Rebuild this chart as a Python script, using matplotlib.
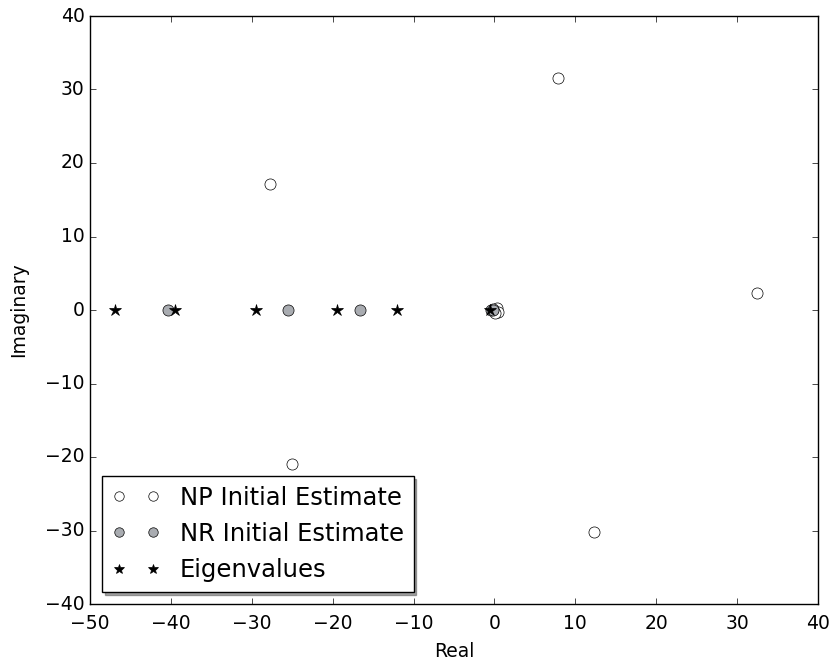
import matplotlib
matplotlib.use('Agg')
import matplotlib.pyplot as plt

plt.style.use('classic')

# initial estimates and eigenvalues (real, imaginary)
np_real = [7.9, -27.7, 32.5, -25.0, 12.3, 0.3, 0.5, 0.1, -0.2]
np_imag = [31.6, 17.2, 2.3, -21.0, -30.2, 0.3, -0.3, -0.4, 0.1]

nr_real = [-40.3, -25.5, -16.6, -0.4, -0.2]
nr_imag = [0.0, 0.0, 0.0, 0.0, 0.0]

eig_real = [-46.9, -39.5, -29.5, -19.5, -12.1, -0.5]
eig_imag = [0.0, 0.0, 0.0, 0.0, 0.0, 0.0]

fig = plt.figure(figsize=(8.34, 6.65), dpi=100)
ax = fig.add_axes([90 / 834, 1 - 604 / 665, 728 / 834, 588 / 665])

ax.plot(np_real, np_imag, 'o', color='white', markeredgecolor='black',
        markersize=8, label='NP Initial Estimate')
ax.plot(nr_real, nr_imag, 'o', color='#a9acb1', markeredgecolor='black',
        markersize=8, label='NR Initial Estimate')
ax.plot(eig_real, eig_imag, '*', color='black', markersize=9,
        label='Eigenvalues')

ax.set_xlim(-50, 40)
ax.set_ylim(-40, 40)
ax.tick_params(labelsize=13.5)
ax.tick_params(axis='x', pad=7)
ax.set_xlabel('Real', fontsize=13.5, labelpad=7)
ax.set_ylabel('Imaginary', fontsize=13.5, labelpad=12)
ax.legend(loc='lower left', shadow=True, fontsize=17.5, numpoints=2,
          markerscale=0.85)

plt.savefig('out.png')
